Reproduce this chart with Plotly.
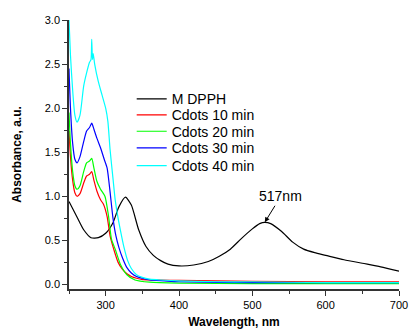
import plotly.graph_objects as go

# M DPPH (black)
dpph_x = [250, 260, 270, 280, 290, 300, 310, 318, 327, 335, 345, 355, 365, 375, 385, 400,
          420, 440, 455, 470, 485, 500, 510, 517, 525, 540, 555, 570, 585, 600, 625, 650, 675, 700]
dpph_y = [0.94, 0.78, 0.62, 0.53, 0.53, 0.58, 0.70, 0.88, 0.99, 0.90, 0.62, 0.43, 0.33, 0.27, 0.23, 0.21,
          0.22, 0.26, 0.32, 0.40, 0.52, 0.63, 0.69, 0.705, 0.69, 0.60, 0.48, 0.40, 0.36, 0.33, 0.28, 0.24, 0.20, 0.15]

# Cdots 10 min (red)
c10_x = [250, 252, 255, 258, 261, 265, 270, 274, 278, 281, 284, 288, 293, 297, 302, 306, 311, 317,
         323, 329, 335, 342, 350, 375, 400, 450, 500, 600, 700]
c10_y = [1.74, 1.45, 1.18, 1.04, 1.00, 1.03, 1.15, 1.23, 1.25, 1.28, 1.18, 1.06, 0.96, 0.91, 0.77, 0.55, 0.40, 0.25,
         0.17, 0.12, 0.09, 0.07, 0.055, 0.05, 0.045, 0.04, 0.035, 0.03, 0.03]

# Cdots 20 min (green)
c20_x = [250, 252, 255, 258, 261, 265, 270, 274, 278, 281, 284, 288, 293, 299, 304, 308, 313, 320,
         329, 340, 360, 400, 500, 600, 700]
c20_y = [1.95, 1.60, 1.28, 1.12, 1.08, 1.12, 1.28, 1.38, 1.40, 1.43, 1.32, 1.17, 1.08, 1.00, 0.77, 0.51, 0.40, 0.23,
         0.11, 0.05, 0.025, 0.015, 0.01, 0.01, 0.01]

# Cdots 30 min (blue)
c30_x = [250, 252, 255, 258, 261, 265, 270, 274, 278, 281, 284, 288, 293, 298, 302, 306, 310, 314, 318,
         323, 329, 335, 342, 350, 360, 380, 400, 500, 700]
c30_y = [2.45, 2.00, 1.60, 1.42, 1.38, 1.45, 1.62, 1.74, 1.78, 1.83, 1.76, 1.66, 1.55, 1.42, 1.32, 1.05, 0.75, 0.55, 0.42,
         0.30, 0.19, 0.13, 0.09, 0.07, 0.05, 0.04, 0.03, 0.02, 0.02]

# Cdots 40 min (cyan)
c40_x = [250, 252, 255, 258, 261, 265, 270, 274, 278, 280, 281, 282, 283, 285, 290, 295, 300, 303, 306,
         310, 313, 317, 320, 325, 330, 335, 342, 350, 360, 375, 400, 450, 500, 600, 700]
c40_y = [3.00, 2.60, 2.20, 1.92, 1.84, 1.92, 2.25, 2.40, 2.52, 2.55, 2.78, 2.55, 2.62, 2.50, 2.30, 2.15, 2.00, 1.85, 1.53,
         1.20, 0.96, 0.75, 0.62, 0.42, 0.27, 0.18, 0.11, 0.08, 0.06, 0.05, 0.04, 0.03, 0.03, 0.02, 0.02]

series = [
    ("M DPPH", dpph_x, dpph_y, "#000000"),
    ("Cdots 10 min", c10_x, c10_y, "#FF0000"),
    ("Cdots 20 min", c20_x, c20_y, "#00FF00"),
    ("Cdots 30 min", c30_x, c30_y, "#0000FF"),
    ("Cdots 40 min", c40_x, c40_y, "#00FFFF"),
]

legend_rows = [0.705, 0.646, 0.585, 0.523, 0.457]

fig = go.Figure()
legend_layout = {}
for i, (name, xs, ys, col) in enumerate(series):
    lg = "legend" if i == 0 else f"legend{i+1}"
    fig.add_trace(go.Scatter(x=xs, y=ys, mode="lines", name=name, legend=lg,
                             line=dict(color=col, width=1.2, shape="spline", smoothing=0.6)))
    legend_layout[lg] = dict(x=0.19, y=legend_rows[i], xanchor="left", yanchor="middle",
                             font=dict(size=14, color="black"), bgcolor="rgba(0,0,0,0)",
                             itemwidth=30, borderwidth=0)

fig.add_annotation(x=517, y=0.705, xref="x", yref="y", text="517nm",
                   showarrow=True, ax=16, ay=-26, arrowhead=2, arrowsize=1, arrowwidth=1,
                   arrowcolor="black", font=dict(family="Liberation Sans, Arial", size=14, color="black"))

fig.update_layout(
    width=409, height=329,
    margin=dict(l=69, r=9.5, t=20, b=39.7),
    plot_bgcolor="white", paper_bgcolor="white",
    font=dict(family="Liberation Sans, Arial", size=11, color="black"),
    showlegend=True,
    xaxis=dict(range=[250, 700], tickvals=[300, 400, 500, 600, 700], automargin=False,
               ticklabeloverflow="allow",
               ticks="outside", ticklen=5, tickwidth=1.2, tickcolor="#333",
               showline=True, linecolor="#333", linewidth=1.5, showgrid=False, zeroline=False,
               minor=dict(dtick=50, tick0=250, ticks="outside", ticklen=3, tickcolor="#333", showgrid=False),
               title=dict(text="<b>Wavelength, nm</b>", font=dict(size=12), standoff=8)),
    yaxis=dict(range=[-0.052, 3.0], dtick=0.5, tick0=0, tickformat=".1f", automargin=False,
               ticks="outside", ticklen=5, tickwidth=1.2, tickcolor="#333",
               showline=True, linecolor="#333", linewidth=1.5, showgrid=False, zeroline=False,
               minor=dict(dtick=0.25, tick0=0, ticks="outside", ticklen=3, tickcolor="#333", showgrid=False),
               title=dict(text="<b>Absorbance, a.u.</b>", font=dict(size=12), standoff=21)),
    **legend_layout,
)

fig.write_html("out.html")
